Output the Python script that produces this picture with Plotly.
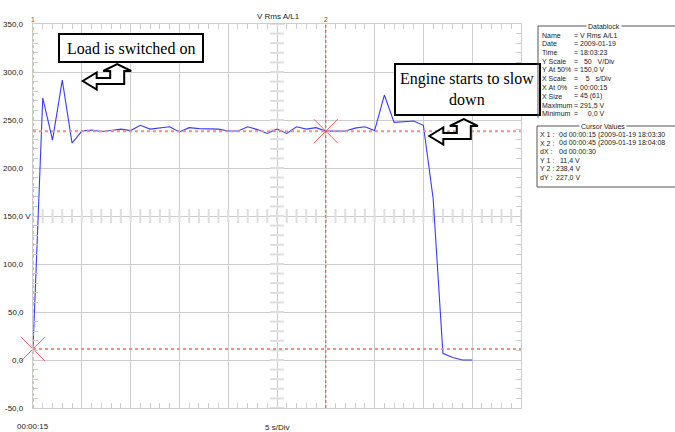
import numpy as np
import plotly.graph_objects as go

# ---------------- data ----------------
time_s = list(range(0, 46))  # seconds after 00:00:15
volts = [11.4, 273, 229, 291.5, 226, 238.5, 239.5, 238, 239, 240.5,
         239, 244.5, 240.5, 242, 243, 237.5, 242, 241, 241, 240.5,
         238.5, 238.5, 243, 240, 236, 240.5, 236, 243, 240.5, 242,
         238.4, 238.4, 238.5, 241.5, 243, 239, 276, 247.5, 248, 249,
         244.5, 168, 7, 2.5, 0, 0]

ytick_vals = [350, 300, 250, 200, 150, 100, 50, 0, -50]
ytick_text = ["350,0", "300,0", "250,0", "200,0", "150,0 V", "100,0", "50,0", "0,0", "-50,0"]

cursor_t = [0, 30]
cursor_v = [11.4, 238.4]

datablock_labels = ["Name", "Date", "Time", "Y Scale", "Y At 50%", "X Scale",
                    "X At 0%", "X Size", "Maximum", "Minimum"]
datablock_values = ["= V Rms A/L1", "= 2009-01-19", "= 18:03:23", "=   50   V/Div",
                    "= 150,0 V", "=    5   s/Div", "= 00:00:15", "= 45 (61)",
                    "= 291,5 V", "=     0,0 V"]
cursor_labels = ["X 1 :", "X 2 :", "dX :", "Y 1 :", "Y 2 :", "dY :"]
cursor_values = ["0d 00:00:15 (2009-01-19 18:03:30", "0d 00:00:45 (2009-01-19 18:04:08",
                 "0d 00:00:30", "11,4 V", "238,4 V", "227,0 V"]

# ---------------- geometry helpers (window pixel -> paper) ----------------
W, H = 675, 432
L, R, T, B = 33, 521, 24, 408  # plot area in window pixels


def px(x):
    return (x - L) / (R - L)


def py(y):
    return (B - y) / (B - T)


def nb(s):
    return s.replace(" ", "\u00a0")


FONT = "Liberation Sans"
GRID = "#cdcdcd"

fig = go.Figure()

# center-axis tick marks
fig.add_trace(go.Scatter(
    x=np.arange(0, 51, 1), y=[150] * 51, mode="markers", hoverinfo="skip",
    marker=dict(symbol="line-ns", size=10, line=dict(width=2, color="#dedede")),
    showlegend=False))
fig.add_trace(go.Scatter(
    x=[25] * 41, y=np.arange(-50, 351, 10), mode="markers", hoverinfo="skip",
    marker=dict(symbol="line-ew", size=10, line=dict(width=2, color="#dedede")),
    showlegend=False))

# signal
fig.add_trace(go.Scatter(x=time_s, y=volts, mode="lines",
                         line=dict(color="#3a3aff", width=1.1), showlegend=False))

# cursor crosses
fig.add_trace(go.Scatter(x=cursor_t, y=cursor_v, mode="markers", cliponaxis=False,
                         marker=dict(symbol="x-thin", size=24,
                                     line=dict(width=1, color="#ff5a5a")),
                         showlegend=False))

shapes = []
for v in cursor_v:
    shapes.append(dict(type="line", xref="x", yref="y", x0=0, x1=50, y0=v, y1=v,
                       line=dict(color="#ff8a8a", width=2, dash="dot"), layer="above"))
shapes.append(dict(type="line", xref="x", yref="paper", x0=0, x1=0, y0=0, y1=1,
                   line=dict(color="#ff8a8a", width=1.5, dash="dot"), layer="above"))
shapes.append(dict(type="line", xref="x", yref="paper", x0=30, x1=30, y0=0, y1=1,
                   line=dict(color="#d05050", width=1, dash="3px,2px"), layer="above"))

# annotation boxes
shapes.append(dict(type="rect", xref="paper", yref="paper",
                   x0=px(59), x1=px(203), y0=py(34), y1=py(62),
                   fillcolor="white", line=dict(color="black", width=2), layer="above"))
shapes.append(dict(type="rect", xref="paper", yref="paper",
                   x0=px(395), x1=px(540), y0=py(64), y1=py(115),
                   fillcolor="white", line=dict(color="black", width=2), layer="above"))

# bent arrows (left-up arrow)
arrow_rel = [(0, 0), (14, -8.5), (14, -3), (27.5, -3), (27.5, -10), (20.5, -10),
             (34.5, -17), (48.5, -10), (41.5, -10), (41.5, 3), (14, 3), (14, 8.5)]
for tx, ty in [(82.7, 81), (429.3, 136)]:
    pts = [(px(tx + dx), py(ty + dy)) for dx, dy in arrow_rel]
    path = "M " + " L ".join(f"{a:.5f},{b:.5f}" for a, b in pts) + " Z"
    shapes.append(dict(type="path", xref="paper", yref="paper", path=path,
                       fillcolor="white", line=dict(color="black", width=2), layer="above"))

# datablock frames
frame_col = "#555555"
shapes += [
    dict(type="line", xref="paper", yref="paper", x0=px(538), x1=px(589), y0=py(26), y1=py(26),
         line=dict(color=frame_col, width=1)),
    dict(type="line", xref="paper", yref="paper", x0=px(619), x1=px(680), y0=py(26), y1=py(26),
         line=dict(color=frame_col, width=1)),
    dict(type="line", xref="paper", yref="paper", x0=px(538), x1=px(538), y0=py(26), y1=py(118),
         line=dict(color=frame_col, width=1)),
    dict(type="line", xref="paper", yref="paper", x0=px(537), x1=px(584), y0=py(126), y1=py(126),
         line=dict(color=frame_col, width=1)),
    dict(type="line", xref="paper", yref="paper", x0=px(622), x1=px(680), y0=py(126), y1=py(126),
         line=dict(color=frame_col, width=1)),
    dict(type="line", xref="paper", yref="paper", x0=px(537), x1=px(537), y0=py(126), y1=py(187),
         line=dict(color=frame_col, width=1)),
    dict(type="line", xref="paper", yref="paper", x0=px(537), x1=px(680), y0=py(187), y1=py(187),
         line=dict(color=frame_col, width=1)),
]

ann = []
small = dict(family=FONT, size=8, color="#222222")
tiny = dict(family=FONT, size=7, color="#222222")
for v, t in zip(ytick_vals, ytick_text):
    ann.append(dict(xref="paper", yref="y", x=px(26) if v != 150 else px(33), y=v,
                    text=t, showarrow=False, xanchor="right", yanchor="middle", font=small))
ann.append(dict(xref="paper", yref="paper", x=px(33), y=py(426), text="00:00:15",
                showarrow=False, xanchor="center", yanchor="middle", font=small))
ann.append(dict(xref="paper", yref="paper", x=px(277), y=py(427), text="5 s/Div",
                showarrow=False, xanchor="center", yanchor="middle", font=small))
ann.append(dict(xref="paper", yref="paper", x=px(278), y=py(16), text="V Rms A/L1",
                showarrow=False, xanchor="center", yanchor="middle", font=small))
for cx, lab in [(33, "1"), (326, "2")]:
    ann.append(dict(xref="paper", yref="paper", x=px(cx), y=py(20), text=lab,
                    showarrow=False, xanchor="center", yanchor="middle",
                    font=dict(family=FONT, size=7, color="#e02020")))
serif = dict(family="Liberation Serif", size=16, color="black")
ann.append(dict(xref="paper", yref="paper", x=px(131), y=py(48), text="Load is switched on",
                showarrow=False, xanchor="center", yanchor="middle", font=serif))
ann.append(dict(xref="paper", yref="paper", x=px(467), y=py(89),
                text="Engine starts to slow<br>down", showarrow=False,
                xanchor="center", yanchor="middle", font=serif))

ann.append(dict(xref="paper", yref="paper", x=px(604), y=py(26), text="Datablock",
                showarrow=False, xanchor="center", yanchor="middle", font=tiny,
                bgcolor="white"))
for i, (lab, val) in enumerate(zip(datablock_labels, datablock_values)):
    yy = 35 + i * 8.75
    ann.append(dict(xref="paper", yref="paper", x=px(539.5), y=py(yy), text=nb(lab),
                    showarrow=False, xanchor="left", yanchor="middle", font=tiny))
    ann.append(dict(xref="paper", yref="paper", x=px(572), y=py(yy), text=nb(val),
                    showarrow=False, xanchor="left", yanchor="middle", font=tiny))
ann.append(dict(xref="paper", yref="paper", x=px(603), y=py(126), text="Cursor Values",
                showarrow=False, xanchor="center", yanchor="middle", font=tiny,
                bgcolor="white"))
for i, (lab, val) in enumerate(zip(cursor_labels, cursor_values)):
    yy = 134.5 + i * 8.5
    ann.append(dict(xref="paper", yref="paper", x=px(538), y=py(yy), text=nb(lab),
                    showarrow=False, xanchor="left", yanchor="middle", font=tiny))
    if i < 3:
        ann.append(dict(xref="paper", yref="paper", x=px(557), y=py(yy), text=nb(val),
                        showarrow=False, xanchor="left", yanchor="middle", font=tiny))
    else:
        ann.append(dict(xref="paper", yref="paper", x=px(582), y=py(yy), text=nb(val),
                        showarrow=False, xanchor="right", yanchor="middle", font=tiny))

axis_common = dict(showgrid=True, gridcolor=GRID, gridwidth=1, zeroline=False,
                   showline=True, linecolor=GRID, linewidth=1, mirror="allticks",
                   ticks="", showticklabels=False, fixedrange=True)

fig.update_layout(
    width=W, height=H,
    margin=dict(l=L, r=W - R, t=T, b=H - B, pad=0),
    paper_bgcolor="white", plot_bgcolor="white",
    xaxis=dict(range=[0, 50], dtick=5, tick0=0,
               minor=dict(dtick=1, ticks="inside", ticklen=5, tickcolor=GRID, showgrid=False),
               **axis_common),
    yaxis=dict(range=[-50, 350], dtick=50, tick0=0,
               minor=dict(dtick=10, ticks="inside", ticklen=5, tickcolor=GRID, showgrid=False),
               **axis_common),
    shapes=shapes, annotations=ann, showlegend=False,
)

# remove the browser's default 8px body margin so the figure sits at the window origin
fig.write_html("out.html", config={"displayModeBar": False},
               post_script="document.body.style.margin='0';")
